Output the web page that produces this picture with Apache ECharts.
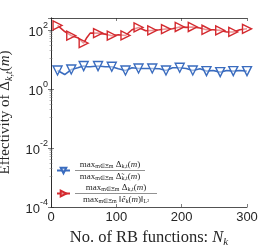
<!DOCTYPE html>
<html><head><meta charset="utf-8">
<script src="https://cdn.jsdelivr.net/npm/echarts@6/dist/echarts.min.js"></script>
<style>html,body{margin:0;padding:0;background:#fff}#c{width:274px;height:249px}</style>
</head><body><div id="c"></div>
<script>
// ---- data ----
const nk = [10, 21, 31, 41, 50, 55, 60, 72, 83, 93, 103, 114, 124, 134, 145, 155, 166, 176, 186, 197, 207, 217, 228, 238, 248, 259, 269, 279, 289, 300];
const markerNk = [10, 31, 50, 72, 93, 114, 134, 155, 176, 197, 217, 238, 259, 279, 300];
const effEst = [4.17, 3.05, 4.5, 5.15, 5.9, 5.6, 5.6, 5.9, 5.6, 5.6, 4.76, 4.17, 5.15, 4.88, 4.88, 4.88, 4.76, 4.17, 5.15, 5.15, 4.88, 4.17, 4.76, 3.98, 4.17, 3.68, 4.17, 3.98, 4.17, 3.98];
const effErr = [140, 87, 63, 54, 35, 55, 77, 77, 71, 63, 68, 64, 100, 120, 92, 95, 100, 106, 108, 124, 120, 124, 114, 100, 100, 95, 84, 84, 100, 108];
const xTicks = [0, 100, 200, 300];
const yTickExp = [-4, -2, 0, 2];

const RED = '#d42a2f', BLUE = '#3a6cbf', INK = '#262626';
const SERIF = 'Liberation Serif', SANS = 'Liberation Sans';

function build(vals) {
  return nk.map((x, i) => markerNk.includes(x) ? [x, vals[i]] : { value: [x, vals[i]], symbol: 'none' });
}

const legendText = {
  est: '{r|max}{s|m∈Ξm}{r| Δ}{s|k,t}{r|(}{i|m}{r|)}\n{bar1| }\n{r|max}{s|m∈Ξm}{r| Δ̃}{s|k,t}{r|(}{i|m}{r|)}',
  err: '{r|max}{s|m∈Ξm}{r| Δ}{s|k,t}{r|(}{i|m}{r|)}\n{bar2| }\n{r|max}{s|m∈Ξm}{r| ‖}{i|ê}{s|k}{r|(}{i|m}{r|)‖}{s|L²}'
};

const chart = echarts.init(document.getElementById('c'), null, { renderer: 'canvas' });
const baseAxis = {
  axisLine: { show: true, lineStyle: { color: INK, width: 0.8 } },
  axisTick: { show: true, inside: true, length: 3, lineStyle: { color: INK, width: 0.6 } },
  splitLine: { show: false }
};
chart.setOption({
  animation: false,
  grid: { left: 51, right: 27, top: 18, bottom: 42, containLabel: false, outerBoundsMode: 'none' },
  xAxis: [
    Object.assign({}, baseAxis, {
      type: 'value', min: 0, max: 300, interval: 100, position: 'bottom',
      axisLabel: { color: INK, fontFamily: SANS, fontSize: 13, margin: 4,
        formatter: v => xTicks.includes(v) ? String(v) : '' },
      name: 'No. of RB functions: {i|N}{s|k}', nameLocation: 'middle', nameGap: 17,
      nameTextStyle: { fontFamily: SERIF, fontSize: 16.5, color: INK,
        rich: { i: { fontFamily: SERIF, fontSize: 16.5, fontStyle: 'italic', color: INK },
                s: { fontFamily: SERIF, fontSize: 11, fontStyle: 'italic', color: INK, verticalAlign: 'bottom', lineHeight: 21 } } }
    }),
    Object.assign({}, baseAxis, {
      type: 'value', min: 0, max: 300, interval: 100, position: 'top',
      axisLabel: { show: false }
    })
  ],
  yAxis: [
    Object.assign({}, baseAxis, {
      type: 'log', logBase: 10, min: 1e-4, max: 250, interval: 2, position: 'left',
      minorTick: { show: true, splitNumber: 10, length: 1.5, lineStyle: { color: '#777', width: 0.5 } },
      axisLabel: { showMaxLabel: false, margin: 3,
        formatter: v => {
          const e = Math.round(Math.log10(v));
          return yTickExp.includes(e) ? '{b|10}{s|' + e + '}' : '';
        },
        rich: { b: { fontFamily: SANS, fontSize: 13, color: INK, lineHeight: 18, verticalAlign: 'bottom' },
                s: { fontFamily: SANS, fontSize: 9, color: INK, lineHeight: 18, verticalAlign: 'top' } } },
      name: 'Effectivity of {d|Δ}{s|k,t}{r|(}{i|m}{r|)}', nameLocation: 'middle', nameGap: 30,
      nameTextStyle: { fontFamily: SERIF, fontSize: 15, color: INK,
        rich: { d: { fontFamily: SERIF, fontSize: 15, color: INK },
                r: { fontFamily: SERIF, fontSize: 15, color: INK },
                i: { fontFamily: SERIF, fontSize: 15, fontStyle: 'italic', color: INK },
                s: { fontFamily: SERIF, fontSize: 10, fontStyle: 'italic', color: INK, verticalAlign: 'bottom', lineHeight: 20 } } }
    }),
    Object.assign({}, baseAxis, {
      type: 'log', logBase: 10, min: 1e-4, max: 250, interval: 2, position: 'right',
      minorTick: { show: true, splitNumber: 10, length: 1.5, lineStyle: { color: '#777', width: 0.5 } },
      axisLabel: { show: false }
    })
  ],
  legend: {
    orient: 'vertical', left: 56, top: 160, itemGap: 2, itemWidth: 13, itemHeight: 7,
    padding: 0,
    data: ['est', 'err'],
    formatter: n => legendText[n],
    textStyle: {
      rich: {
        r: { fontFamily: SERIF, fontSize: 9, color: INK, align: 'center', lineHeight: 9 },
        i: { fontFamily: SERIF, fontSize: 9, fontStyle: 'italic', color: INK, align: 'center', lineHeight: 9 },
        s: { fontFamily: SERIF, fontSize: 6, color: INK, align: 'center', lineHeight: 9, verticalAlign: 'bottom' },
        bar1: { width: 70, height: 0.7, backgroundColor: INK, lineHeight: 3, align: 'center' },
        bar2: { width: 82, height: 0.7, backgroundColor: INK, lineHeight: 3, align: 'center' }
      }
    }
  },
  series: [
    { name: 'est', type: 'line', xAxisIndex: 0, yAxisIndex: 0, data: build(effEst),
      symbol: 'triangle', symbolRotate: 180, symbolSize: 9, showSymbol: true, showAllSymbol: true,
      lineStyle: { color: BLUE, width: 1.6 },
      itemStyle: { color: 'rgba(255,255,255,0.5)', borderColor: BLUE, borderWidth: 1.4 } },
    { name: 'err', type: 'line', xAxisIndex: 0, yAxisIndex: 0, data: build(effErr),
      symbol: 'triangle', symbolRotate: -90, symbolSize: 9, showSymbol: true, showAllSymbol: true,
      lineStyle: { color: RED, width: 1.6 },
      itemStyle: { color: 'rgba(255,255,255,0.5)', borderColor: RED, borderWidth: 1.4 } }
  ]
});
</script></body></html>
